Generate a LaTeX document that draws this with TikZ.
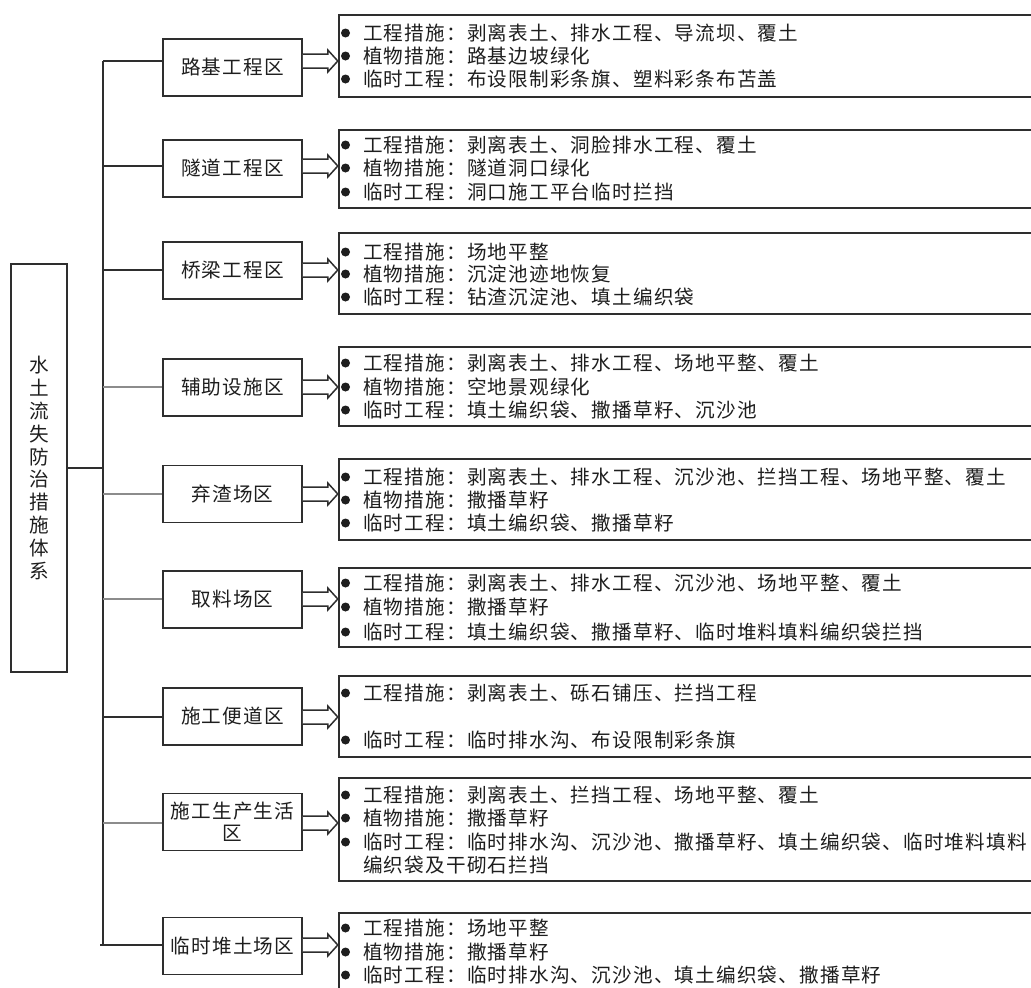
\documentclass[tikz,border=0pt]{standalone}
\usepackage{fontspec}
\newfontfamily\cjk[LetterSpace=6]{Noto Sans CJK SC}
\usetikzlibrary{calc}
\definecolor{ln}{HTML}{2E2E2E}
\definecolor{lg}{HTML}{8C8C8C}
\definecolor{tx}{HTML}{1E1E1E}
\newcommand\bl[3]{\fill[tx] (345.5,#2) circle (4.5);\node[itemtext] (#1) at (363,#2) {#3};}
\newcommand\fatarrow[2]{\draw[fatarr] (#1.east |- #2) ++(0,-7) -- ++(25,0) -- ++(0,-4) -- ++(10,11) -- ++(-10,11) -- ++(0,-4) -- ++(-25,0);}
\begin{document}
\begin{tikzpicture}[x=1pt,y=-1pt,
  every node/.style={font=\cjk\fontsize{19.6pt}{23pt}\selectfont, text=tx},
  mbox/.style={draw=ln, line width=1.6pt, minimum width=139pt, minimum height=57pt, inner sep=0pt, align=center},
  rbox/.style={draw=ln, line width=1.6pt, anchor=north west, minimum width=702pt, inner sep=0pt},
  itemtext/.style={anchor=west, inner sep=0pt},
  branch/.style={draw=ln, line width=1.5pt},
  branchg/.style={draw=lg, line width=1.4pt},
  fatarr/.style={draw=ln, line width=1.5pt, fill=white, line join=miter}]
\useasboundingbox (0,0) rectangle (1031,988);
\clip (0,0) rectangle (1031,988);
\fill[white] (0,0) rectangle (1031,988);

% root
\node[draw=ln, line width=1.6pt, minimum width=56pt, minimum height=408pt, inner sep=0pt, align=center,
  font=\cjk\fontsize{19.6pt}{22.8pt}\selectfont] (root) at (39,468)
  {水\\土\\流\\失\\防\\治\\措\\施\\体\\系};

% middle boxes
\node[mbox] (m1) at (232.5,67.5) {路基工程区};
\node[mbox] (m2) at (232.5,168.5) {隧道工程区};
\node[mbox] (m3) at (232.5,270.5) {桥梁工程区};
\node[mbox] (m4) at (232.5,387.5) {辅助设施区};
\node[mbox] (m5) at (232.5,494) {弃渣场区};
\node[mbox] (m6) at (232.5,599.5) {取料场区};
\node[mbox] (m7) at (232.5,716.5) {施工便道区};
\node[mbox, font=\cjk\fontsize{19.6pt}{22pt}\selectfont] (m8) at (232.5,822) {施工生产生活\\区};
\node[mbox] (m9) at (232.5,946) {临时堆土场区};

% trunk and branches
\coordinate (b1) at (103,61);
\coordinate (b2) at (103,166);
\coordinate (b3) at (103,270);
\coordinate (b4) at (103,387);
\coordinate (b5) at (103,494);
\coordinate (b6) at (103,599);
\coordinate (b7) at (103,717);
\coordinate (b8) at (103,823);
\coordinate (b9) at (100,945);
\draw[branch] (b1) -- (b9 -| b1);
\draw[branch] (root.east) -- (root.east -| b1);
\draw[branch] (b1) -- (b1 -| m1.west);
\draw[branch] (b2) -- (b2 -| m2.west);
\draw[branch] (b3) -- (b3 -| m3.west);
\draw[branchg] (b4) -- (b4 -| m4.west);
\draw[branchg] (b5) -- (b5 -| m5.west);
\draw[branchg] (b6) -- (b6 -| m6.west);
\draw[branch] (b7) -- (b7 -| m7.west);
\draw[branchg] (b8) -- (b8 -| m8.west);
\draw[branch] (b9) -- (b9 -| m9.west);

% right boxes
\node[rbox, minimum height=82pt] (r1) at (338,14) {};
\node[rbox, minimum height=78pt] (r2) at (338,129) {};
\node[rbox, minimum height=81pt] (r3) at (338,232) {};
\node[rbox, minimum height=79pt] (r4) at (338,346) {};
\node[rbox, minimum height=81pt] (r5) at (338,458) {};
\node[rbox, minimum height=79pt] (r6) at (338,567) {};
\node[rbox, minimum height=81pt] (r7) at (338,675) {};
\node[rbox, minimum height=103pt] (r8) at (338,777) {};
\node[rbox, minimum height=95pt] (r9) at (338,912) {};

% arrows
\fatarrow{m1}{b1}
\fatarrow{m2}{b2}
\fatarrow{m3}{b3}
\fatarrow{m4}{b4}
\fatarrow{m5}{b5}
\fatarrow{m6}{b6}
\fatarrow{m7}{b7}
\fatarrow{m8}{b8}
\fatarrow{m9}{b9}

% items
\bl{t11}{33}{工程措施：剥离表土、排水工程、导流坝、覆土}
\bl{t12}{56}{植物措施：路基边坡绿化}
\bl{t13}{79}{临时工程：布设限制彩条旗、塑料彩条布苫盖}

\bl{t21}{145}{工程措施：剥离表土、洞脸排水工程、覆土}
\bl{t22}{168}{植物措施：隧道洞口绿化}
\bl{t23}{192}{临时工程：洞口施工平台临时拦挡}

\bl{t31}{252}{工程措施：场地平整}
\bl{t32}{274}{植物措施：沉淀池迹地恢复}
\bl{t33}{297}{临时工程：钻渣沉淀池、填土编织袋}

\bl{t41}{363}{工程措施：剥离表土、排水工程、场地平整、覆土}
\bl{t42}{387}{植物措施：空地景观绿化}
\bl{t43}{410}{临时工程：填土编织袋、撒播草籽、沉沙池}

\bl{t51}{477}{工程措施：剥离表土、排水工程、沉沙池、拦挡工程、场地平整、覆土}
\bl{t52}{500}{植物措施：撒播草籽}
\bl{t53}{523}{临时工程：填土编织袋、撒播草籽}

\bl{t61}{583}{工程措施：剥离表土、排水工程、沉沙池、场地平整、覆土}
\bl{t62}{607}{植物措施：撒播草籽}
\bl{t63}{632}{临时工程：填土编织袋、撒播草籽、临时堆料填料编织袋拦挡}

\bl{t71}{693}{工程措施：剥离表土、砾石铺压、拦挡工程}
\bl{t73}{740}{临时工程：临时排水沟、布设限制彩条旗}

\bl{t81}{795}{工程措施：剥离表土、拦挡工程、场地平整、覆土}
\bl{t82}{818}{植物措施：撒播草籽}
\bl{t83}{842}{临时工程：临时排水沟、沉沙池、撒播草籽、填土编织袋、临时堆料填料}
\node[itemtext] (t84) at (363,865) {编织袋及干砌石拦挡};

\bl{t91}{928}{工程措施：场地平整}
\bl{t92}{952}{植物措施：撒播草籽}
\bl{t93}{975}{临时工程：临时排水沟、沉沙池、填土编织袋、撒播草籽}
\end{tikzpicture}
\end{document}
